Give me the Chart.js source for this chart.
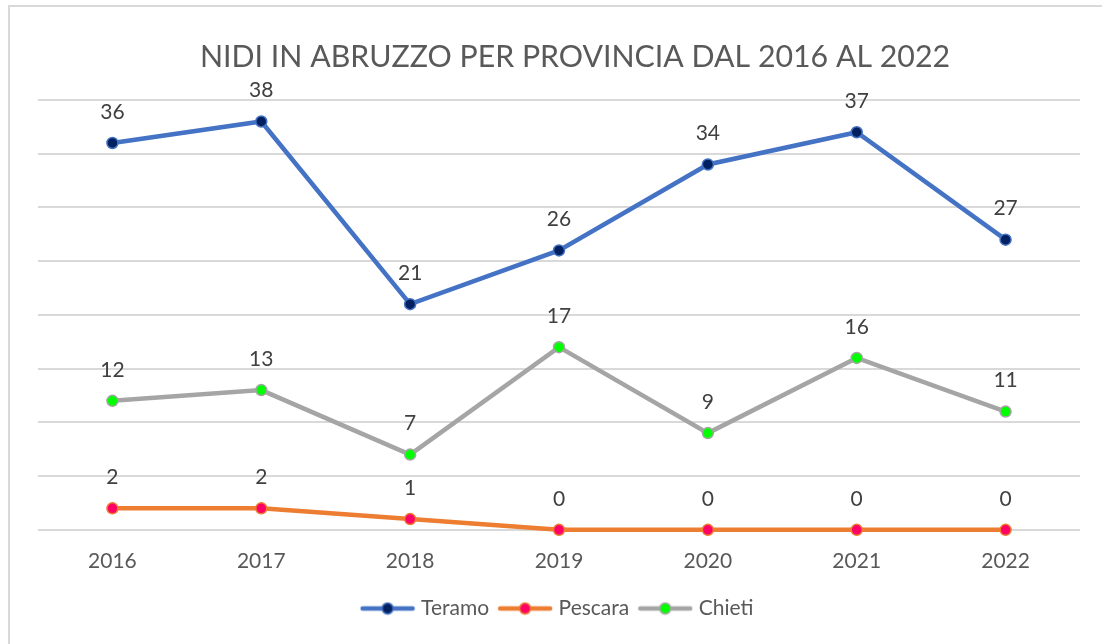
<!DOCTYPE html>
<html>
<head>
<meta charset="utf-8">
<script src="https://cdn.jsdelivr.net/npm/chart.js@4"></script>
<style>
  html, body { margin: 0; padding: 0; background: #fff; overflow: hidden; }
  #wrap { position: relative; width: 1102px; height: 644px; }
  #frame { position: absolute; left: 8px; top: 5px; width: 1200px; height: 800px; border: 2px solid #d9d9d9; }
  canvas { position: absolute; left: 0; top: 0; }
</style>
</head>
<body>
<div id="wrap">
  <div id="frame"></div>
  <canvas id="grafico" width="1102" height="644"></canvas>
</div>
<script>
const anni = ["2016", "2017", "2018", "2019", "2020", "2021", "2022"];
const teramo = [36, 38, 21, 26, 34, 37, 27];
const pescara = [2, 2, 1, 0, 0, 0, 0];
const chieti = [12, 13, 7, 17, 9, 16, 11];
const titolo = "NIDI IN ABRUZZO PER PROVINCIA DAL 2016 AL 2022";

const FONT = "Lato, 'Open Sans', sans-serif";

// icona della legenda: linea con il punto al centro
function iconaLegenda(colLinea, colPunto) {
  const c = document.createElement("canvas");
  c.width = 56;
  c.height = 14;
  const g = c.getContext("2d");
  g.strokeStyle = colLinea;
  g.lineWidth = 4.5;
  g.lineCap = "round";
  g.beginPath();
  g.moveTo(3, 7);
  g.lineTo(53, 7);
  g.stroke();
  g.beginPath();
  g.arc(28, 7, 5.5, 0, Math.PI * 2);
  g.fillStyle = colPunto;
  g.fill();
  g.lineWidth = 1.5;
  g.stroke();
  return c;
}

// titolo centrato sul riquadro, non sull'area del grafico
const titoloPlugin = {
  id: "titoloPlugin",
  afterDraw(chart) {
    const ctx = chart.ctx;
    ctx.save();
    ctx.font = "30.3px " + FONT;
    ctx.fillStyle = "#595959";
    ctx.textAlign = "center";
    ctx.textBaseline = "middle";
    ctx.fillText(titolo, 575, 57);
    ctx.restore();
  }
};

// etichette dei valori sopra i punti
const etichette = {
  id: "etichette",
  afterDatasetsDraw(chart) {
    const ctx = chart.ctx;
    ctx.save();
    ctx.font = "21px " + FONT;
    ctx.fillStyle = "#404040";
    ctx.textAlign = "center";
    ctx.textBaseline = "middle";
    chart.data.datasets.forEach((ds, i) => {
      chart.getDatasetMeta(i).data.forEach((p, j) => {
        ctx.fillText(ds.data[j], p.x, p.y - 31);
      });
    });
    ctx.restore();
  }
};

const serie = [
  { label: "Teramo", data: teramo, linea: "#4472C4", punto: "#002060" },
  { label: "Pescara", data: pescara, linea: "#ED7D31", punto: "#FF0066" },
  { label: "Chieti", data: chieti, linea: "#A5A5A5", punto: "#00FF00" }
];

new Chart(document.getElementById("grafico"), {
  type: "line",
  data: {
    labels: anni,
    datasets: serie.map((s) => ({
      label: s.label,
      data: s.data,
      borderColor: s.linea,
      backgroundColor: s.punto,
      borderWidth: 4.5,
      pointRadius: 5.5,
      pointBorderWidth: 1.5,
      pointBorderColor: s.linea,
      pointBackgroundColor: s.punto,
      tension: 0,
      clip: false
    }))
  },
  options: {
    responsive: false,
    animation: false,
    layout: { padding: { left: 38, right: 22, top: 100, bottom: 15 } },
    scales: {
      x: {
        offset: true,
        grid: { display: false },
        border: { display: false },
        ticks: { color: "#595959", font: { family: FONT, size: 21 }, padding: 11 }
      },
      y: {
        min: 0,
        max: 40,
        ticks: { stepSize: 5, display: false },
        grid: { color: "#d9d9d9", lineWidth: 2, drawTicks: false },
        border: { display: false }
      }
    },
    plugins: {
      title: { display: false },
      legend: {
        position: "bottom",
        labels: {
          usePointStyle: true,
          pointStyleWidth: 46,
          color: "#595959",
          font: { family: FONT, size: 21 },
          padding: 13,
          generateLabels(chart) {
            return chart.data.datasets.map((ds, i) => ({
              text: ds.label,
              pointStyle: iconaLegenda(serie[i].linea, serie[i].punto),
              fillStyle: ds.backgroundColor,
              strokeStyle: ds.borderColor,
              lineWidth: 0,
              fontColor: "#595959",
              datasetIndex: i
            }));
          }
        }
      },
      tooltip: { enabled: false }
    }
  },
  plugins: [etichette, titoloPlugin]
});
</script>
</body>
</html>
